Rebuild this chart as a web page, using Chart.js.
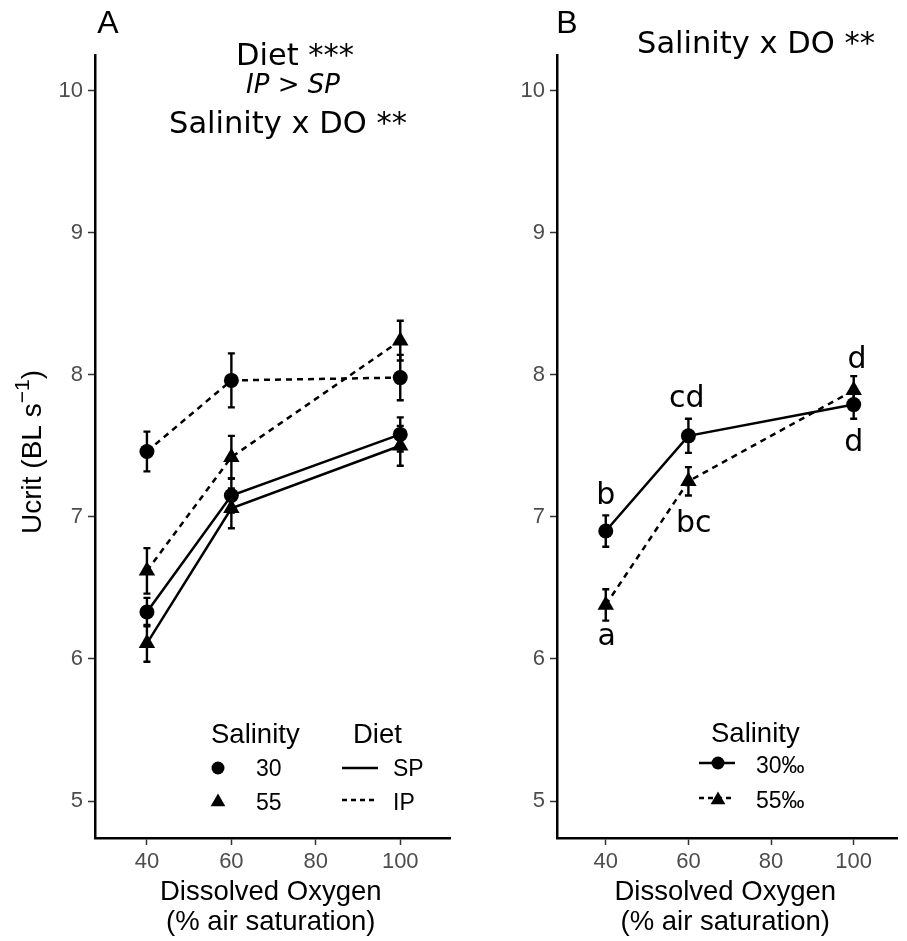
<!DOCTYPE html>
<html>
<head>
<meta charset="utf-8">
<script src="https://cdn.jsdelivr.net/npm/chart.js@4.4.1/dist/chart.umd.min.js"></script>
<style>
  body { margin: 0; background: #fff; }
  #wrap { position: relative; width: 907px; height: 941px; }
  canvas { position: absolute; top: 0; }
</style>
</head>
<body>
<div id="wrap">
  <canvas id="panelA" width="460" height="941" style="left:0"></canvas>
  <canvas id="panelB" width="447" height="941" style="left:460px"></canvas>
</div>
<script>
const doLevels = [40, 60, 100]
const xTicks = [40, 60, 80, 100]
const yTicks = [5, 6, 7, 8, 9, 10]

// panel A - diet x salinity
const sp30Mean = [6.33, 7.15, 7.58]
const sp30Se = [0.10, 0.12, 0.12]
const sp55Mean = [6.11, 7.06, 7.50]
const sp55Se = [0.13, 0.14, 0.14]
const ip30Mean = [7.46, 7.96, 7.98]
const ip30Se = [0.14, 0.19, 0.16]
const ip55Mean = [6.62, 7.42, 8.24]
const ip55Se = [0.16, 0.15, 0.14]

// panel B - salinity x DO
const sal30Mean = [6.90, 7.57, 7.79]
const sal30Se = [0.11, 0.12, 0.10]
const sal55Mean = [6.38, 7.25, 7.89]
const sal55Se = [0.11, 0.10, 0.10]
const letterText = ['b', 'cd', 'd', 'a', 'bc', 'd']
const letterX = [40, 59.6, 100.8, 40.2, 61.3, 100]
const letterY = [7.09, 7.77, 8.05, 6.10, 6.89, 7.46]

const SANS = 'Liberation Sans'
const VERD = 'DejaVu Sans'

function series(means, se, shape, dashed) {
  return {
    data: doLevels.map((x, i) => ({ x: x, y: means[i] })),
    se: se,
    borderColor: '#000',
    backgroundColor: '#000',
    pointBackgroundColor: '#000',
    borderWidth: 2.5,
    borderDash: dashed ? [6, 5] : [],
    pointStyle: shape,
    pointRadius: shape === 'triangle' ? 9.5 : 7.5,
    pointHoverRadius: shape === 'triangle' ? 9.5 : 7.5,
    pointBorderWidth: 0,
    tension: 0
  }
}

function scales(xMin, xMax, yWidth) {
  const grid = { display: true, drawOnChartArea: false, drawTicks: true, tickLength: 7, tickWidth: 1.5, tickColor: '#333' }
  const ticks = { color: '#4d4d4d', font: { family: SANS, size: 22 }, maxRotation: 0 }
  return {
    x: {
      type: 'linear', min: xMin, max: xMax,
      afterBuildTicks: s => { s.ticks = xTicks.map(v => ({ value: v })) },
      afterFit: s => { s.height = 103 },
      border: { display: true, color: '#000', width: 2.5 },
      grid: grid,
      ticks: Object.assign({ padding: 4 }, ticks)
    },
    y: {
      type: 'linear', min: 4.74, max: 10.25,
      afterBuildTicks: s => { s.ticks = yTicks.map(v => ({ value: v })) },
      afterFit: s => { s.width = yWidth },
      border: { display: true, color: '#000', width: 2.5 },
      grid: grid,
      ticks: Object.assign({ padding: 5 }, ticks)
    }
  }
}

function text(ctx, str, x, y, font, align) {
  ctx.save()
  ctx.font = font
  ctx.fillStyle = '#000'
  ctx.textAlign = align || 'center'
  ctx.textBaseline = 'alphabetic'
  ctx.fillText(str, x, y)
  ctx.restore()
}

function marker(ctx, shape, x, y) {
  ctx.save()
  ctx.fillStyle = '#000'
  ctx.beginPath()
  if (shape === 'circle') {
    ctx.arc(x, y, 6.5, 0, Math.PI * 2)
  } else {
    const r = 8.5
    ctx.moveTo(x, y - r)
    ctx.lineTo(x + r * Math.sin(Math.PI / 3), y + r / 2)
    ctx.lineTo(x - r * Math.sin(Math.PI / 3), y + r / 2)
    ctx.closePath()
  }
  ctx.fill()
  ctx.restore()
}

function hline(ctx, x1, x2, y, dashed) {
  ctx.save()
  ctx.strokeStyle = '#000'
  ctx.lineWidth = 2.5
  ctx.setLineDash(dashed ? [5, 4] : [])
  ctx.beginPath()
  ctx.moveTo(x1, y)
  ctx.lineTo(x2, y)
  ctx.stroke()
  ctx.restore()
}

function xTitle(ctx, area) {
  const cx = (area.left + area.right) / 2 - 2
  text(ctx, 'Dissolved Oxygen', cx, 900, '27.5px ' + SANS)
  text(ctx, '(% air saturation)', cx, 930, '27.5px ' + SANS)
}

const errorBars = {
  id: 'errorBars',
  afterDatasetsDraw(chart) {
    const ctx = chart.ctx
    const ys = chart.scales.y
    ctx.save()
    ctx.strokeStyle = '#000'
    ctx.lineWidth = 2.4
    chart.data.datasets.forEach((ds, i) => {
      chart.getDatasetMeta(i).data.forEach((pt, j) => {
        const m = ds.data[j].y
        const top = ys.getPixelForValue(m + ds.se[j])
        const bot = ys.getPixelForValue(m - ds.se[j])
        ctx.beginPath()
        ctx.moveTo(pt.x, top); ctx.lineTo(pt.x, bot)
        ctx.moveTo(pt.x - 3.5, top); ctx.lineTo(pt.x + 3.5, top)
        ctx.moveTo(pt.x - 3.5, bot); ctx.lineTo(pt.x + 3.5, bot)
        ctx.stroke()
      })
    })
    ctx.restore()
  }
}

const decorA = {
  id: 'decorA',
  afterDraw(chart) {
    const ctx = chart.ctx
    text(ctx, 'A', 108, 33, '32px ' + SANS)
    text(ctx, 'Diet ***', 295, 65, '30.5px ' + VERD)
    text(ctx, 'IP > SP', 293, 93, 'italic 26px ' + VERD)
    text(ctx, 'Salinity x DO **', 288, 133, '30.5px ' + VERD)
    xTitle(ctx, chart.chartArea)

    // y axis title with superscript
    ctx.save()
    ctx.translate(41, 452)
    ctx.rotate(-Math.PI / 2)
    ctx.font = '28px ' + SANS
    const w1 = ctx.measureText('Ucrit (BL s').width
    const w3 = ctx.measureText(')').width
    ctx.font = '21px ' + SANS
    const w2 = ctx.measureText('\u22121').width
    let x0 = -(w1 + w2 + w3) / 2
    ctx.fillStyle = '#000'
    ctx.textAlign = 'left'
    ctx.font = '28px ' + SANS
    ctx.fillText('Ucrit (BL s', x0, 0)
    ctx.font = '21px ' + SANS
    ctx.fillText('\u22121', x0 + w1, -12)
    ctx.font = '28px ' + SANS
    ctx.fillText(')', x0 + w1 + w2, 0)
    ctx.restore()

    // legend
    text(ctx, 'Salinity', 211, 743, '27.5px ' + SANS, 'left')
    marker(ctx, 'circle', 218, 768)
    text(ctx, '30', 256, 776, '23px ' + SANS, 'left')
    marker(ctx, 'triangle', 218, 802)
    text(ctx, '55', 256, 810, '23px ' + SANS, 'left')
    text(ctx, 'Diet', 353, 743, '27.5px ' + SANS, 'left')
    hline(ctx, 342, 378, 768, false)
    text(ctx, 'SP', 393, 776, '23px ' + SANS, 'left')
    hline(ctx, 342, 378, 800, true)
    text(ctx, 'IP', 393, 810, '23px ' + SANS, 'left')
  }
}

const decorB = {
  id: 'decorB',
  afterDraw(chart) {
    const ctx = chart.ctx
    const xs = chart.scales.x
    const ys = chart.scales.y
    text(ctx, 'B', 107, 33, '32px ' + SANS)
    text(ctx, 'Salinity x DO **', 296, 53, '30.5px ' + VERD)
    xTitle(ctx, chart.chartArea)
    letterText.forEach((t, i) => {
      text(ctx, t, xs.getPixelForValue(letterX[i]), ys.getPixelForValue(letterY[i]), '30px ' + VERD)
    })

    // legend
    text(ctx, 'Salinity', 251, 742, '27.5px ' + SANS, 'left')
    hline(ctx, 239, 275, 763, false)
    marker(ctx, 'circle', 258, 763)
    text(ctx, '30\u2030', 296, 773, '23px ' + SANS, 'left')
    hline(ctx, 239, 275, 798, true)
    marker(ctx, 'triangle', 258, 800)
    text(ctx, '55\u2030', 296, 808, '23px ' + SANS, 'left')
  }
}

const baseOptions = {
  responsive: false,
  animation: false,
  events: [],
  plugins: { legend: { display: false }, tooltip: { enabled: false } }
}

new Chart(document.getElementById('panelA'), {
  type: 'line',
  data: {
    datasets: [
      series(sp30Mean, sp30Se, 'circle', false),
      series(sp55Mean, sp55Se, 'triangle', false),
      series(ip30Mean, ip30Se, 'circle', true),
      series(ip55Mean, ip55Se, 'triangle', true)
    ]
  },
  options: Object.assign({}, baseOptions, {
    layout: { padding: { left: 0, top: 55, right: 9, bottom: 0 } },
    scales: scales(27.7, 111.9, 95)
  }),
  plugins: [errorBars, decorA]
})

new Chart(document.getElementById('panelB'), {
  type: 'line',
  data: {
    datasets: [
      series(sal30Mean, sal30Se, 'circle', false),
      series(sal55Mean, sal55Se, 'triangle', true)
    ]
  },
  options: Object.assign({}, baseOptions, {
    layout: { padding: { left: 0, top: 55, right: 0, bottom: 0 } },
    scales: scales(28.2, 110.6, 97)
  }),
  plugins: [errorBars, decorB]
})
</script>
</body>
</html>
